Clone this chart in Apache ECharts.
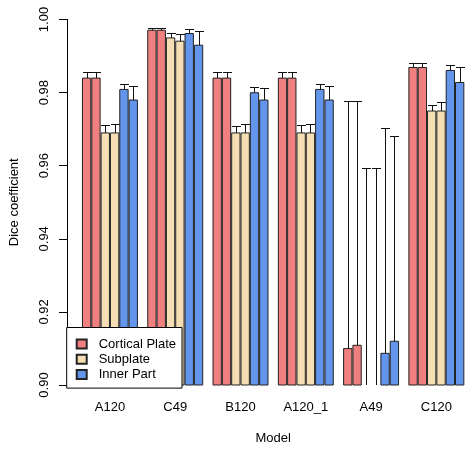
<!DOCTYPE html>
<html>
<head>
<meta charset="utf-8">
<script src="https://cdn.jsdelivr.net/npm/echarts@6/dist/echarts.min.js"></script>
<style>
html,body{margin:0;padding:0;background:#fff;}
#chart{width:469px;height:450px;}
</style>
</head>
<body>
<div id="chart"></div>
<script>
const models = ['A120', 'C49', 'B120', 'A120_1', 'A49', 'C120'];
const classNames = ['Cortical Plate', 'Subplate', 'Inner Part'];
const classColors = ['#F08080', '#F5DEB3', '#6495ED'];
const yTicks = [0.90, 0.92, 0.94, 0.96, 0.98, 1.00];

// Mean Dice per bar (two bars per class per model)
const cortical1 = [0.9841, 0.9972, 0.9841, 0.9841, 0.9101, 0.9870];
const cortical2 = [0.9841, 0.9972, 0.9841, 0.9841, 0.9110, 0.9870];
const subplate1 = [0.9691, 0.9951, 0.9691, 0.9691, 0.8500, 0.9751];
const subplate2 = [0.9691, 0.9942, 0.9691, 0.9691, 0.8500, 0.9751];
const inner1    = [0.9810, 0.9963, 0.9801, 0.9810, 0.9088, 0.9862];
const inner2    = [0.9781, 0.9931, 0.9781, 0.9781, 0.9121, 0.9829];

// Upper end of error bars
const cortical1Up = [0.9857, 0.9976, 0.9855, 0.9856, 0.9776, 0.9882];
const cortical2Up = [0.9857, 0.9976, 0.9857, 0.9856, 0.9776, 0.9882];
const subplate1Up = [0.9711, 0.9963, 0.9709, 0.9711, 0.9594, 0.9767];
const subplate2Up = [0.9714, 0.9959, 0.9714, 0.9714, 0.9594, 0.9773];
const inner1Up    = [0.9824, 0.9974, 0.9815, 0.9824, 0.9704, 0.9875];
const inner2Up    = [0.9819, 0.9969, 0.9812, 0.9819, 0.9681, 0.9870];

const barSets = [cortical1, cortical2, subplate1, subplate2, inner1, inner2];
const upSets = [cortical1Up, cortical2Up, subplate1Up, subplate2Up, inner1Up, inner2Up];
const FONT = "'Liberation Sans', Arial, sans-serif";

const series = barSets.map((vals, j) => ({
  type: 'bar',
  name: classNames[Math.floor(j / 2)],
  data: vals,
  barGap: '0%',
  barCategoryGap: (100 / 7) + '%',
  clip: true,
  z: 3,
  itemStyle: { color: classColors[Math.floor(j / 2)], borderColor: '#222', borderWidth: 1 },
  emphasis: { disabled: true },
  silent: true
}));

const errData = [];
upSets.forEach((ups, j) => ups.forEach((u, i) => errData.push([i, u, j])));

series.push({
  type: 'custom',
  name: 'err',
  z: 1,
  silent: true,
  data: errData,
  encode: { x: 0, y: 1 },
  renderItem: function (params, api) {
    const top = api.coord([api.value(0), api.value(1)]);
    const base = api.coord([api.value(0), 0.9]);
    const w = api.size([1, 0])[0] / 7;
    const x = Math.round(top[0] + (api.value(2) - 2.5) * w) + 0.5;
    const y = Math.round(top[1]) + 0.5;
    const st = { stroke: '#111', lineWidth: 1 };
    return {
      type: 'group',
      children: [
        { type: 'line', shape: { x1: x, y1: y, x2: x, y2: base[1] }, style: st },
        { type: 'line', shape: { x1: x - 4.5, y1: y, x2: x + 4.5, y2: y }, style: st }
      ]
    };
  }
});

const chart = echarts.init(document.getElementById('chart'));
chart.setOption({
  animation: false,
  backgroundColor: '#fff',
  textStyle: { fontFamily: FONT },
  grid: { left: 77, right: -3.2, top: 19.5, bottom: 60, containLabel: false },
  legend: {
    data: classNames,
    orient: 'vertical',
    left: 66.7,
    top: 327.5,
    width: 115,
    padding: [9, 6, 6, 9],
    itemWidth: 10,
    itemHeight: 9,
    itemGap: 0.3,
    backgroundColor: '#fff',
    borderColor: '#000',
    borderWidth: 1,
    borderRadius: 0,
    icon: 'rect',
    z: 10,
    selectedMode: false,
    textStyle: { fontFamily: FONT, fontSize: 13, color: '#000', lineHeight: 15, padding: [0, 0, 0, 7] }
  },
  xAxis: {
    type: 'category',
    data: models,
    name: 'Model',
    nameLocation: 'middle',
    nameGap: 47,
    nameTextStyle: { fontFamily: FONT, fontSize: 13, color: '#000' },
    axisLine: { show: false },
    axisTick: { show: false },
    axisLabel: { fontFamily: FONT, fontSize: 13, color: '#000', margin: 16 }
  },
  yAxis: {
    type: 'value',
    min: 0.9,
    max: 1.0,
    interval: 0.02,
    offset: 10.3,
    name: 'Dice coefficient',
    nameLocation: 'middle',
    nameRotate: 90,
    nameGap: 46,
    nameTextStyle: { fontFamily: FONT, fontSize: 13, color: '#000' },
    axisLine: { show: true, lineStyle: { color: '#000', width: 1 } },
    axisTick: { show: true, length: 8, inside: false, lineStyle: { color: '#000' } },
    splitLine: { show: false },
    axisLabel: {
      rotate: 90,
      margin: 16,
      fontFamily: FONT,
      fontSize: 13,
      color: '#000',
      formatter: v => {
        const t = yTicks.find(k => Math.abs(k - v) < 1e-9);
        return (t !== undefined ? t : v).toFixed(2);
      }
    }
  },
  series: series
});
</script>
</body>
</html>
